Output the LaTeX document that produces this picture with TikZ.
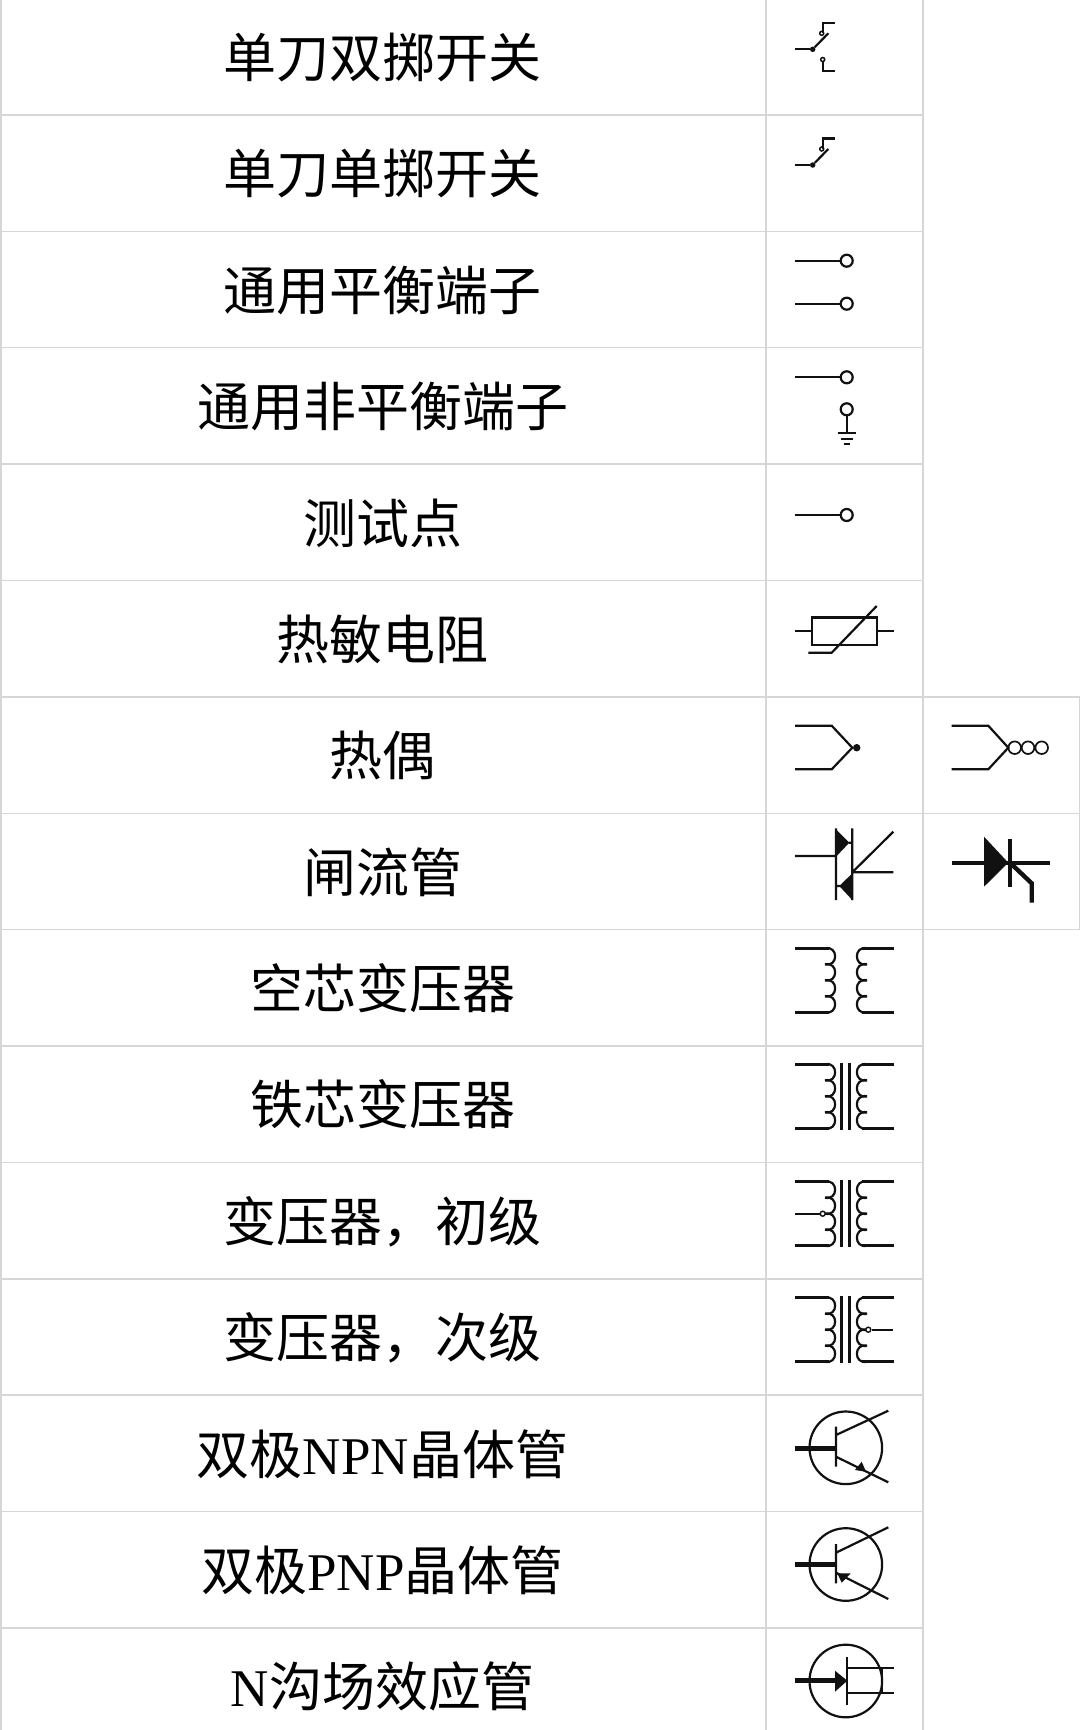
\documentclass[tikz,border=0pt]{standalone}
\usepackage{fontspec}
\setmainfont{Liberation Serif}
\newfontfamily\cjk{Noto Sans CJK SC}
\usetikzlibrary{positioning}

\definecolor{gridgray}{HTML}{D6D6D6}
\definecolor{ink}{HTML}{111111}

\tikzset{
    gridline/.style={draw=gridgray, line width=1.5pt},
    wire/.style={draw=ink, line width=2.2pt},
    thin wire/.style={draw=ink, line width=1.7pt},
    heavy/.style={draw=ink, line width=4.4pt},
    solid ink/.style={fill=ink, draw=none},
    rowlabel/.style={inner sep=0pt, text height=46.6pt, text depth=6.4pt,
        font=\fontsize{53}{60}\selectfont},
    terminal/.style={circle, draw=ink, line width=2.2pt, fill=white, inner sep=0pt, minimum size=12pt},
    tap/.style={circle, draw=ink, line width=1.4pt, fill=white, inner sep=0pt, minimum size=5pt},
    pivot/.style={circle, fill=ink, inner sep=0pt, minimum size=5.5pt},
    contact/.style={circle, draw=ink, line width=1.5pt, fill=white, inner sep=0pt, minimum size=4pt}
}

\newcommand{\coil}[3]{
    \foreach \n in {0, 1, 2, 3}
        \draw[wire] ({#1}, {#2 + 16*\n}) .. controls ({#1 + #3*13.5}, {#2 + 16*\n - 3}) and ({#1 + #3*13.5}, {#2 + 16*\n + 19}) .. ({#1}, {#2 + 16*\n + 16});
}
\newcommand{\windings}[1]{
    \draw[wire, line width=2.5pt] (795, #1) -- (828.5, #1)
        (795, #1 + 64) -- (828.5, #1 + 64)
        (862, #1) -- (893.5, #1)
        (862, #1 + 64) -- (893.5, #1 + 64);
    \coil{825}{#1}{1}
    \coil{867}{#1}{-1}
}
\newcommand{\ironcore}[1]{
    \draw[wire, line width=2.8pt] (841.7, #1 - 1.5) -- (841.7, #1 + 65.5)
        (849.5, #1 - 1.5) -- (849.5, #1 + 65.5);
}
\newcommand{\springcontact}[2]{
    \node[pivot] (pivot#1) at (812.7, #2) {};
    \node[contact] (contact#1) at (821.7, #2 - 16) {};
    \draw[wire] (795, #2) -- (pivot#1);
    \draw[wire] (pivot#1) -- (828.3, #2 - 16);
    \draw[wire] (822.7, #2 - 16) -- (822.7, #2 - 26.5) -- (835, #2 - 26.5);
}

\begin{document}
\begin{tikzpicture}[x=1pt, y=-1pt]
    \fill[white] (0, 0) rectangle (1080, 1730);
    \useasboundingbox (0, 0) rectangle (1080, 1730);

    \foreach \k in {1, ..., 14}
        \draw[gridline] (0, {116.38*\k - 1.4}) -- (923, {116.38*\k - 1.4});
    \foreach \k in {6, 7, 8}
        \draw[gridline] (923, {116.38*\k - 1.4}) -- (1080, {116.38*\k - 1.4});
    \draw[gridline] (1, 0) -- (1, 1730)
        (766, 0) -- (766, 1730)
        (923, 0) -- (923, 1730)
        (1079.5, 696.9) -- (1079.5, 929.6);

    \foreach \k/\txt in {
        0/{\cjk 单刀双掷开关},
        1/{\cjk 单刀单掷开关},
        2/{\cjk 通用平衡端子},
        3/{\cjk 通用非平衡端子},
        4/{\cjk 测试点},
        5/{\cjk 热敏电阻},
        6/{\cjk 热偶},
        7/{\cjk 闸流管},
        8/{\cjk 空芯变压器},
        9/{\cjk 铁芯变压器},
        10/{\cjk 变压器，初级},
        11/{\cjk 变压器，次级},
        12/{{\cjk 双极}NPN{\cjk 晶体管}},
        13/{{\cjk 双极}PNP{\cjk 晶体管}},
        14/{N{\cjk 沟场效应管}}}
        \node[rowlabel] (label\k) at (382.5, {57.4 + 116.38*\k}) {\txt};

    \springcontact{a}{49.3}
    \node[contact] (lower) at (822.7, 59.5) {};
    \draw[wire] (lower) -- (822.7, 70.7) -- (835, 70.7);
    \springcontact{b}{165}

    \node[terminal] (bal1) at (846.7, 260.7) {};
    \node[terminal] (bal2) at (846.7, 303.7) {};
    \node[terminal] (unbal1) at (846.7, 377.3) {};
    \node[terminal] (unbal2) at (846.7, 409.3) {};
    \node[terminal] (probe) at (846.7, 515) {};
    \draw[wire] (795, 260.7) -- (bal1);
    \draw[wire] (795, 303.7) -- (bal2);
    \draw[wire] (795, 377.3) -- (unbal1);
    \draw[wire] (795, 515) -- (probe);
    \draw[wire] (unbal2) -- (846.7, 433.3);
    \draw[wire] (837.7, 433.3) -- (856, 433.3)
        (841, 438.7) -- (852.5, 438.7)
        (843.5, 444.3) -- (850, 444.3);

    \draw[wire, line width=2.4pt] (811.7, 617.3) rectangle (876.7, 644.7);
    \draw[wire] (795, 631) -- (811.7, 631)
        (876.7, 631) -- (893.7, 631);
    \draw[wire] (808.3, 652.7) -- (831.7, 652.7) -- (876.7, 606);

    \draw[wire] (795, 725.7) -- (831.7, 725.7) -- (852.3, 747.7) -- (831.7, 769.3) -- (795, 769.3);
    \node[pivot, minimum size=7.5pt] (junction) at (856.7, 747.7) {};
    \draw[wire] (951.7, 725.7) -- (988.3, 725.7) -- (1008.3, 747.7) -- (988.3, 769.3) -- (951.7, 769.3);
    \foreach \x in {1014.7, 1028, 1041.7}
        \draw[thin wire] (\x, 747.7) circle (6.3);

    \draw[wire] (795, 856) -- (836, 856)
        (836, 828.3) -- (836, 900)
        (852.3, 828.3) -- (852.3, 900)
        (849, 842.7) -- (852.3, 842.7)
        (836, 886) -- (840, 886)
        (852.3, 872.3) -- (893.3, 872.3)
        (852.3, 872.3) -- (893.3, 831.7);
    \fill[solid ink] (836.7, 830) -- (849.3, 842.7) -- (836.7, 856) -- cycle;
    \fill[solid ink] (839.3, 886) -- (852.3, 873.3) -- (852.3, 900) -- cycle;

    \draw[heavy] (951.7, 862.7) -- (1050, 862.7)
        (1010, 839.3) -- (1010, 886.7);
    \draw[heavy] (1010, 862.7) -- (1031.7, 883.3) -- (1031.7, 902.7);
    \fill[solid ink] (984, 836.7) -- (1008.3, 862.7) -- (984, 886.7) -- cycle;

    \windings{948.3}
    \windings{1064.3}
    \ironcore{1064.3}
    \windings{1181.7}
    \ironcore{1181.7}
    \node[tap] (tap1) at (822.7, 1213.7) {};
    \draw[wire] (795, 1213.7) -- (tap1);
    \windings{1297.7}
    \ironcore{1297.7}
    \node[tap] (tap2) at (868.3, 1329.7) {};
    \draw[wire] (tap2) -- (893.3, 1329.7);

    \draw[wire] (845.8, 1447.8) circle (36.3);
    \draw[heavy, line width=5pt] (795, 1448) -- (836, 1448);
    \draw[wire] (836, 1426.7) -- (836, 1466.7)
        (836, 1435) -- (888.3, 1410.7)
        (836, 1456.7) -- (888.3, 1482.3);
    \fill[solid ink] (866, 1471.7) -- (861.7, 1461.7) -- (855, 1470) -- cycle;

    \draw[wire] (845.8, 1564.5) circle (36.3);
    \draw[heavy, line width=5pt] (795, 1564.3) -- (836, 1564.3);
    \draw[wire] (836, 1544) -- (836, 1583.3)
        (836, 1552.7) -- (888.3, 1527.3)
        (836, 1572.7) -- (888.3, 1599);
    \fill[solid ink] (837.3, 1573.3) -- (850.7, 1573.3) -- (841.7, 1582.7) -- cycle;

    \draw[wire] (845.8, 1681) circle (36.3);
    \draw[heavy, line width=5pt] (795, 1680.5) -- (836, 1680.5);
    \fill[solid ink] (835, 1670.7) -- (847.3, 1680.7) -- (835, 1691.7) -- cycle;
    \draw[wire] (847.3, 1657.3) -- (847.3, 1705)
        (847.3, 1668.3) -- (894, 1668.3)
        (847.3, 1692.7) -- (894, 1692.7)
        (881.7, 1668.3) -- (881.7, 1692.7);
\end{tikzpicture}
\end{document}
